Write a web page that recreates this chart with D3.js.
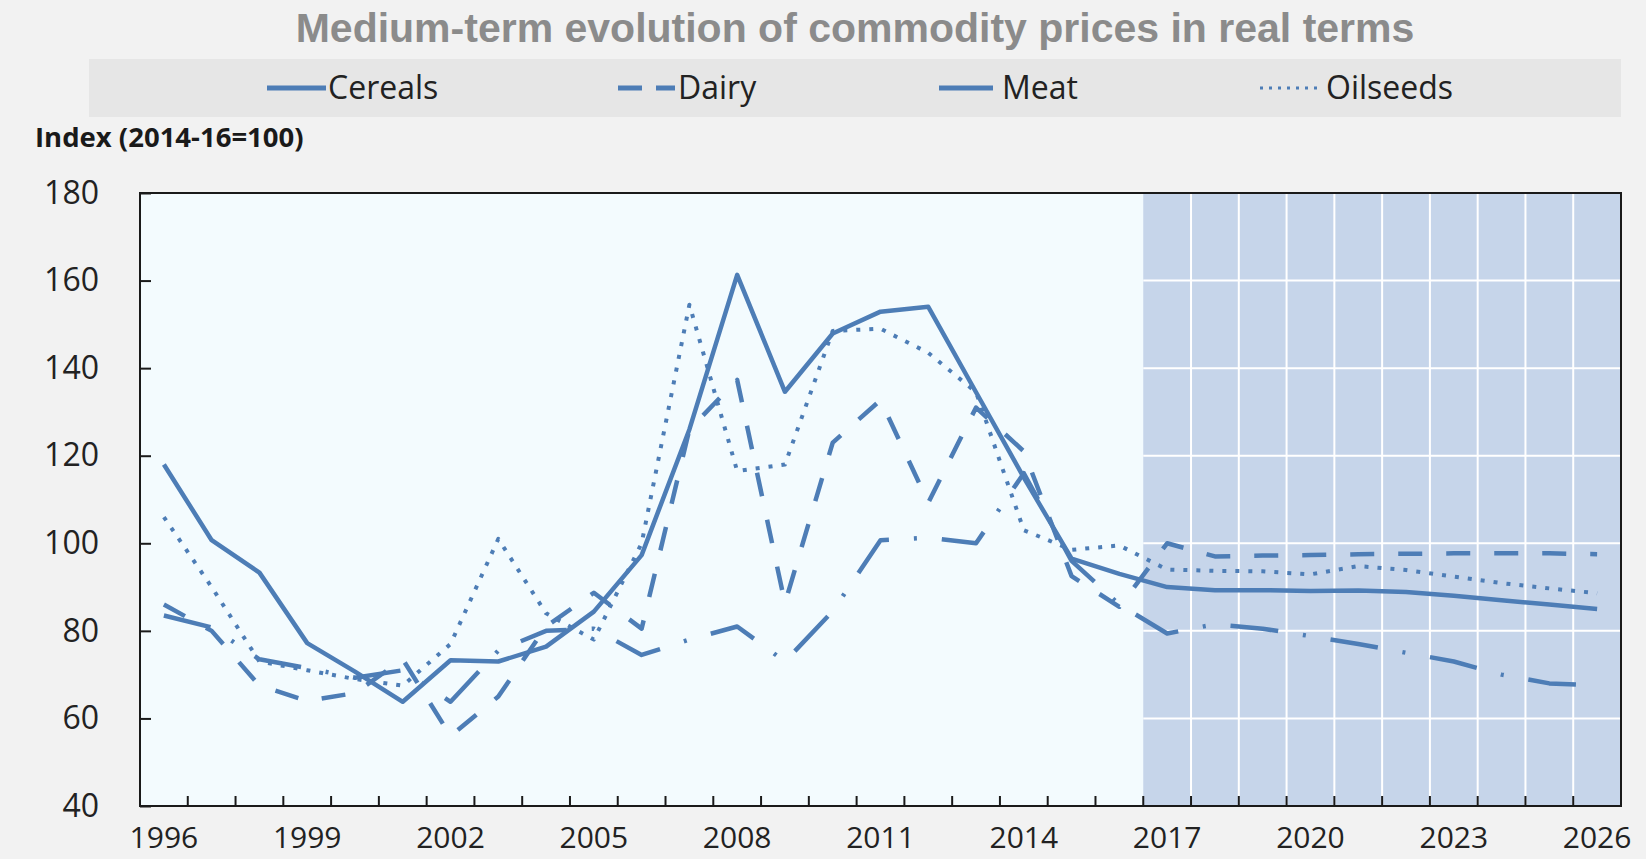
<!DOCTYPE html>
<html><head><meta charset="utf-8">
<script src="https://cdn.jsdelivr.net/npm/d3@7"></script>
<style>body{margin:0;background:#f2f2f2;} svg{display:block}</style>
</head><body><svg id="c" width="1646" height="859"></svg>
<script>
// ---------- data ----------
const years = [1996,1997,1998,1999,2000,2001,2002,2003,2004,2005,2006,2007,2008,2009,2010,2011,2012,2013,2014,2015,2016,2017,2018,2019,2020,2021,2022,2023,2024,2025,2026];
const cereals  = [118,100.7,93.3,77.2,70.7,63.8,73.3,73,76.4,84.4,97.3,126,161.3,134.6,147.9,152.9,154,134.5,115,96.5,93,90,89.3,89.3,89.1,89.2,88.9,88,87,86,85];
const dairy    = [86,80,67.5,64,65.8,73.5,56,65,81,88.7,80.5,126,137.3,86.3,123,132.7,109.3,131,121,92.5,85.5,100,97,97.2,97.3,97.5,97.6,97.7,97.7,97.7,97.5];
const meat     = [83.5,80.8,73.5,71.5,69.3,71,63.8,75.5,80,80.5,74.5,78,81,73,84.5,100.7,101.3,100,116,96,86,79.4,81.5,80.5,78.8,77,75,73,70,68,67.5];
const oilseeds = [106,90,73,71,69,67.5,77,101,84,78,100,154.5,116.5,118,148.5,149,143.5,134.5,103,98.5,99.5,94,93.7,93.6,92.9,94.8,93.9,92.4,90.9,89.7,88.6];
const seriesNames = ["Cereals","Dairy","Meat","Oilseeds"];
const yTicks = [40,60,80,100,120,140,160,180];
const xLabelYears = [1996,1999,2002,2005,2008,2011,2014,2017,2020,2023,2026];
const forecastStart = 2017;
const titleText = "Medium-term evolution of commodity prices in real terms";
const yAxisTitle = "Index (2014-16=100)";

// ---------- layout ----------
const W = 1646, H = 859;
const L = 140, R = 1621, T = 193, B = 806;
const COLOR = "#4d7db6";
const svg = d3.select("#c");

const x = d3.scaleBand().domain(years).range([L, R]).padding(0);
const y = d3.scaleLinear().domain([40, 180]).range([B, T]);
const cx = d => x(d) + x.bandwidth() / 2;

svg.append("rect").attr("width", W).attr("height", H).attr("fill", "#f2f2f2");

// title
svg.append("text").attr("x", 855).attr("y", 42).attr("text-anchor", "middle")
  .attr("font-family", "'Liberation Sans', Arial, sans-serif").attr("font-weight", "bold")
  .attr("font-size", 41).attr("fill", "#8b8b8b").text(titleText);

// legend band
svg.append("rect").attr("x", 89).attr("y", 59).attr("width", 1532).attr("height", 58).attr("fill", "#e6e6e6");

const styles = {
  Cereals:  {dash: null,          legendDash: null,    width: 4.5},
  Dairy:    {dash: "24,24",       legendDash: "24,14", width: 4.5},
  Meat:     {dash: "48,25,3,25",  legendDash: null,    width: 4.5},
  Oilseeds: {dash: "4,9",         legendDash: "3,6",   width: 4}
};
const legendPos = {
  Cereals:  {x1: 267, x2: 326, tx: 328},
  Dairy:    {x1: 618, x2: 675, tx: 678},
  Meat:     {x1: 939, x2: 993, tx: 1002},
  Oilseeds: {x1: 1260, x2: 1323, tx: 1326}
};
const lg = svg.append("g");
seriesNames.forEach(n => {
  const p = legendPos[n], s = styles[n];
  lg.append("line").attr("x1", p.x1).attr("x2", p.x2).attr("y1", 88).attr("y2", 88)
    .attr("stroke", COLOR).attr("stroke-width", n === "Oilseeds" ? 3 : 5)
    .attr("stroke-dasharray", s.legendDash);
  lg.append("text").attr("x", p.tx).attr("y", 99).attr("font-family", "'Open Sans', sans-serif")
    .attr("font-size", 32).attr("fill", "#222").text(n);
});

// y axis title
svg.append("text").attr("x", 35).attr("y", 147).attr("font-family", "'Open Sans', sans-serif")
  .attr("font-weight", "bold").attr("font-size", 27.5).attr("fill", "#1a1a1a").text(yAxisTitle);

// plot backgrounds
svg.append("rect").attr("x", L).attr("y", T).attr("width", R - L).attr("height", B - T).attr("fill", "#f3fbfe");
const fx = x(forecastStart);
svg.append("rect").attr("x", fx).attr("y", T).attr("width", R - fx).attr("height", B - T).attr("fill", "#c6d5ea");
const grid = svg.append("g").attr("stroke", "#ffffff").attr("stroke-width", 2);
yTicks.filter(v => v > 40 && v < 180).forEach(v => {
  grid.append("line").attr("x1", fx).attr("x2", R).attr("y1", y(v)).attr("y2", y(v));
});
years.filter(yr => yr > forecastStart).forEach(yr => {
  grid.append("line").attr("x1", x(yr)).attr("x2", x(yr)).attr("y1", T).attr("y2", B);
});

// series lines
const data = {Cereals: cereals, Dairy: dairy, Meat: meat, Oilseeds: oilseeds};
const line = d3.line().x(d => cx(d[0])).y(d => y(d[1]));
["Oilseeds", "Meat", "Dairy", "Cereals"].forEach(n => {
  const pts = years.map((yr, i) => [yr, data[n][i]]);
  svg.append("path").attr("d", line(pts)).attr("fill", "none")
    .attr("stroke", COLOR).attr("stroke-width", styles[n].width)
    .attr("stroke-dasharray", styles[n].dash).attr("stroke-linejoin", "round");
});

// frame
svg.append("rect").attr("x", L).attr("y", T).attr("width", R - L).attr("height", B - T)
  .attr("fill", "none").attr("stroke", "#1a1a1a").attr("stroke-width", 2);

// y axis
const yAx = svg.append("g").attr("transform", `translate(${L},0)`)
  .call(d3.axisLeft(y).tickValues(yTicks).tickSize(-11).tickPadding(41));
yAx.select(".domain").remove();
yAx.selectAll("line").attr("stroke", "#1a1a1a").attr("stroke-width", 2);
yAx.selectAll("text").attr("font-family", "'Open Sans', sans-serif").attr("font-size", 32).attr("fill", "#222");

// x axis labels
const xAx = svg.append("g").attr("transform", `translate(0,${B})`)
  .call(d3.axisBottom(x).tickValues(xLabelYears).tickSize(0).tickPadding(21));
xAx.select(".domain").remove();
xAx.selectAll("text").attr("font-family", "'Open Sans', sans-serif").attr("font-size", 30).attr("fill", "#222");
// x tick marks at category boundaries
svg.append("g").selectAll("line").data(years.slice(1)).join("line")
  .attr("x1", d => x(d)).attr("x2", d => x(d)).attr("y1", B).attr("y2", B - 10)
  .attr("stroke", "#1a1a1a").attr("stroke-width", 2);
</script></body></html>
